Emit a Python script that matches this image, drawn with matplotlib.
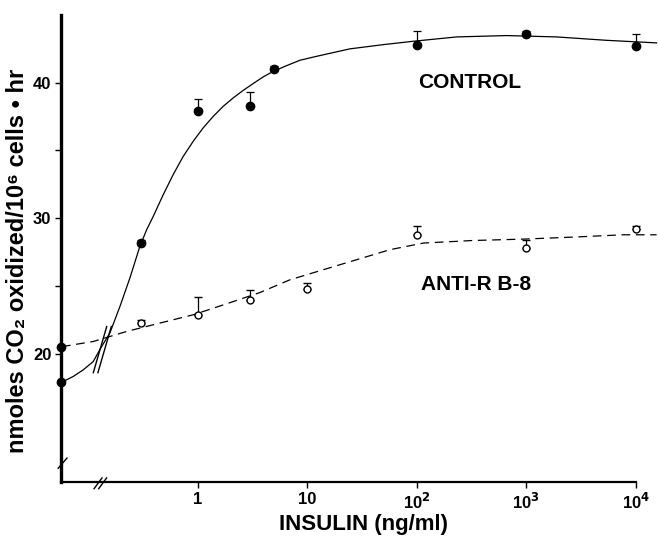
import matplotlib
matplotlib.use('Agg')
import matplotlib.pyplot as plt
import numpy as np

plt.rcParams['font.family'] = ['Liberation Sans', 'DejaVu Sans']
plt.rcParams['font.weight'] = 'bold'

# dose positions (ng/ml); the zero-dose points sit on the y axis
x_zero = 10 ** -1.25

control_x = [0.3, 1, 3, 5, 100, 1000, 10000]
control_y = [28.2, 37.9, 38.3, 41.0, 42.8, 43.6, 42.7]
control_err = [0.2, 0.9, 1.0, 0.2, 1.0, 0.2, 0.9]
control_zero = 17.9

antir_x = [0.3, 1, 3, 10, 100, 1000, 10000]
antir_y = [22.3, 22.9, 24.0, 24.8, 28.8, 27.8, 29.2]
antir_err = [0.2, 1.3, 0.7, 0.4, 0.6, 0.6, 0.2]
antir_zero = 20.5

# hand-drawn fitted curves (log10 dose, value)
control_curve_lx = [-1.242, -1.230, -1.139, -1.047, -0.956, -0.879, -0.804, -0.712,
                    -0.621, -0.530, -0.468, -0.408, -0.317, -0.226, -0.134, -0.043,
                    0.048, 0.140, 0.231, 0.322, 0.414, 0.505, 0.596, 0.688,
                    0.810, 0.932, 1.084, 1.388, 1.692, 1.966, 2.363, 2.819,
                    3.276, 3.732, 4.189]
control_curve_y = [17.90, 17.96, 18.33, 18.82, 19.43, 20.54, 21.53, 23.49,
                   25.59, 27.92, 29.15, 30.13, 31.73, 33.21, 34.56, 35.67,
                   36.66, 37.51, 38.25, 38.87, 39.43, 39.93, 40.42, 40.83,
                   41.25, 41.65, 41.94, 42.49, 42.80, 43.05, 43.37, 43.47,
                   43.37, 43.12, 42.93]

antir_curve_lx = [-1.242, -1.199, -0.956, -0.651, -0.347, -0.043, 0.262, 0.566,
                  0.840, 1.144, 1.449, 1.753, 2.058, 2.514, 2.971, 3.428,
                  3.884, 4.189]
antir_curve_y = [20.55, 20.59, 20.91, 21.65, 22.27, 22.88, 23.69, 24.52,
                 25.46, 26.20, 26.94, 27.68, 28.17, 28.36, 28.46, 28.61,
                 28.78, 28.78]

xticks = [1, 10, 100, 1000, 10000]
xticklabels = ['1', '10', '10$^{\\mathbf{2}}$', '10$^{\\mathbf{3}}$', '10$^{\\mathbf{4}}$']
yticks = [20, 30, 40]

fig = plt.figure(figsize=(6.58, 5.37), dpi=100)
ax = fig.add_axes([0.0927, 0.1024, 0.907, 0.870])

ax.set_xscale('log')
ax.set_xlim(x_zero, 10 ** 4.2)
ax.set_ylim(10.55, 45)

# curves
ax.plot(10 ** np.array(control_curve_lx), control_curve_y, color='black', lw=0.9,
        clip_on=False)
ax.plot(10 ** np.array(antir_curve_lx), antir_curve_y, color='black', lw=0.9,
        ls=(0, (7, 4.5)), clip_on=False)

# data points with upper error bars
ax.errorbar(control_x, control_y, yerr=[np.zeros(len(control_err)), control_err],
            fmt='o', ms=6, color='black', mfc='black', ecolor='black',
            elinewidth=0.9, capsize=3, capthick=0.9, clip_on=False)
ax.errorbar(antir_x, antir_y, yerr=[np.zeros(len(antir_err)), antir_err],
            fmt='o', ms=5, color='black', mfc='white', mew=1.0, ecolor='black',
            elinewidth=0.9, capsize=3, capthick=0.9, clip_on=False)
ax.plot([x_zero, x_zero], [control_zero, antir_zero], 'o', ms=6, color='black',
        clip_on=False, zorder=5)

# spines and ticks
for s in ['top', 'right']:
    ax.spines[s].set_visible(False)
ax.spines['left'].set_linewidth(2.4)
ax.spines['bottom'].set_linewidth(1.6)
ax.spines['bottom'].set_bounds(x_zero, 10000)

ax.set_xticks(xticks)
ax.set_xticklabels(xticklabels)
ax.xaxis.set_minor_locator(matplotlib.ticker.NullLocator())
ax.set_yticks(yticks)
ax.set_yticks([25, 35], minor=True)
ax.tick_params(axis='both', which='major', direction='out', length=4, width=1.0,
               labelsize=12, pad=3)
ax.tick_params(axis='y', which='minor', direction='out', length=4, width=1.0)

# axis break marks
bk = dict(color='black', lw=1.0, transform=fig.transFigure)
fig.add_artist(plt.Line2D([0.0885, 0.1018], [0.128, 0.147], **bk))
for dx in (0.0, 0.0070):
    fig.add_artist(plt.Line2D([0.143 + dx, 0.155 + dx], [0.090, 0.110], **bk))
    fig.add_artist(plt.Line2D([0.1418 + dx, 0.1622 + dx], [0.306, 0.392], **bk))

fig.text(0.552, 0.024, 'INSULIN (ng/ml)', fontsize=16, fontweight='bold',
         ha='center', va='center')
fig.text(0.027, 0.514, 'nmoles CO₂ oxidized/10⁶ cells • hr', fontsize=17,
         fontweight='bold', rotation=90, ha='center', va='center')

ax.text(10 ** 2.01, 40.0, 'CONTROL', fontsize=15, fontweight='bold', va='center')
ax.text(10 ** 2.04, 25.1, 'ANTI-R B-8', fontsize=15, fontweight='bold', va='center')

fig.savefig('out.png', dpi=100)
